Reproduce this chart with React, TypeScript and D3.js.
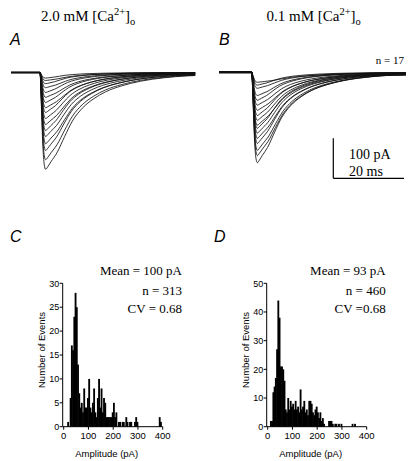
import React from "react";
import * as d3 from "d3";

// ---------- Trace data (read from panels A and B) ----------
// normalized time course of an event (ms after onset -> fraction of peak)
const shapeT = [0, 0.4, 0.8, 1.2, 1.6, 2.2, 3, 4.5, 6.5, 8.5, 11, 14, 17, 21, 26, 32, 38, 44];
const shapeV = [0, 0.35, 0.75, 0.95, 1.0, 0.97, 0.92, 0.83, 0.66, 0.5, 0.37, 0.27, 0.2, 0.14, 0.09, 0.055, 0.035, 0.025];

// peak amplitudes (pA) and decay stretch per trace
const ampsA = [14, 20, 28, 38, 50, 62, 75, 88, 100, 115, 130, 145, 160, 178, 195, 218, 242];
const decayA = [0.8, 1.0, 0.85, 0.95, 0.9, 1.0, 0.95, 1.05, 0.95, 1.0, 1.05, 1.0, 1.05, 1.1, 1.05, 1.1, 1.1];
const ampsB = [25, 32, 40, 58, 70, 82, 95, 108, 120, 132, 140, 152, 165, 178, 195, 208, 226];
const decayB = [1.4, 0.9, 1.0, 0.95, 0.9, 1.0, 1.05, 0.95, 1.0, 1.05, 0.95, 1.0, 1.05, 1.0, 1.05, 1.05, 1.0];
const windowA = [-8.2, 43.9];
const windowB = [-9.25, 43.6];

// ---------- Histogram data: counts in 5 pA bins starting at 0 ----------
const binWidth = 5;
const countsC = [
  0, 0, 0, 1, 0, 6, 17, 16, 23, 28, 25, 13, 7, 4, 5, 3, 8, 4, 4, 6,
  10, 4, 3, 5, 8, 3, 2, 6, 10, 4, 8, 3, 6, 5, 2, 2, 2, 2, 2, 3,
  5, 2, 3, 0, 1, 1, 0, 1, 1, 0, 2, 1, 0, 1, 1, 0, 0, 1, 2, 1,
  0, 0, 0, 0, 0, 0, 0, 0, 0, 0, 0, 0, 0, 0, 0, 0, 0, 2, 1,
];
const countsD = [
  0, 0, 2, 2, 12, 14, 17, 27, 44, 38, 21, 21, 20, 16, 6, 5, 10, 6, 9, 7,
  8, 6, 9, 6, 7, 5, 13, 6, 7, 9, 5, 6, 4, 9, 9, 8, 5, 4, 6, 7,
  5, 3, 5, 2, 3, 1, 0, 0, 0, 2, 2, 2, 1, 0, 1, 1, 0, 1, 0, 1,
  0, 0, 0, 0, 0, 0, 0, 0, 1, 0, 1,
];
const xTicksHist = [0, 100, 200, 300, 400];
const yTicksC = [0, 5, 10, 15, 20, 25, 30];
const yTicksD = [0, 10, 20, 30, 40, 50];
const statsC = ["Mean = 100 pA", "n = 313", "CV = 0.68"];
const statsD = ["Mean = 93 pA", "n = 460", "CV =0.68"];

const SERIF = "'Liberation Serif', 'Times New Roman', serif";
const SANS = "'Liberation Sans', Arial, sans-serif";
const MS_PX = 70.7 / 20;
const PA_PX = 40 / 100;

function traceValues(amp: number, stretch: number) {
  const peakT = shapeT[4];
  return shapeT.map((t, i) => ({
    t: t <= peakT ? t : peakT + (t - peakT) * stretch,
    v: amp * shapeV[i],
  }));
}

function TracePanel({ amps, decays, win, x0, baseY }: any) {
  const x = d3.scaleLinear().domain(win).range([x0, x0 + (win[1] - win[0]) * MS_PX]);
  const y = d3.scaleLinear().domain([0, 100]).range([baseY, baseY + 100 * PA_PX]);
  const line = d3
    .line<{ t: number; v: number }>()
    .x((d) => x(d.t))
    .y((d) => y(d.v))
    .curve(d3.curveMonotoneX);
  return (
    <g>
      {amps.map((a: number, i: number) => {
        const pts = [{ t: win[0], v: 0 }, ...traceValues(a, decays[i]).filter((p) => p.t <= win[1])];
        const last = pts[pts.length - 1];
        if (last.t < win[1]) pts.push({ t: win[1], v: last.v * 0.9 });
        return <path key={i} d={line(pts) || ""} fill="none" stroke="#111" strokeWidth={0.85} />;
      })}
      <line x1={x(win[0])} x2={x(0)} y1={y(0)} y2={y(0)} stroke="#111" strokeWidth={2.2} />
    </g>
  );
}

function Histogram({ counts, yTicks, yMax, x0, letterX, letter, stats, statsRight }: any) {
  const x = d3.scaleLinear().domain([0, 400]).range([x0, x0 + 99]);
  const y = d3.scaleLinear().domain([0, yMax]).range([426.7, 283.3]);
  const axisX = x(0) - 1;
  return (
    <g>
      <text x={letterX} y={242} fontFamily={SANS} fontStyle="italic" fontSize={16}>
        {letter}
      </text>
      {stats.map((s: string, i: number) => (
        <text key={i} x={statsRight} y={[275, 295, 312.7][i]} textAnchor="end" fontFamily={SERIF} fontSize={13}>
          {s}
        </text>
      ))}
      {counts.map((c: number, i: number) =>
        c > 0 ? (
          <rect
            key={i}
            x={x(i * binWidth) - 0.2}
            width={x((i + 1) * binWidth) - x(i * binWidth) + 0.6}
            y={y(c)}
            height={y(0) - y(c)}
            fill="#000"
          />
        ) : null
      )}
      <line x1={axisX} x2={axisX} y1={y(yMax)} y2={y(0)} stroke="#000" strokeWidth={1} />
      <line x1={axisX} x2={x(400)} y1={y(0)} y2={y(0)} stroke="#000" strokeWidth={1} />
      {yTicks.map((t: number) => (
        <g key={t}>
          <line x1={axisX - 3} x2={axisX} y1={y(t)} y2={y(t)} stroke="#000" strokeWidth={1} />
          <text x={axisX - 3.5} y={y(t) + 3.2} textAnchor="end" fontFamily={SANS} fontSize={9}>
            {t}
          </text>
        </g>
      ))}
      {xTicksHist.map((t: number) => (
        <g key={t}>
          <line x1={x(t)} x2={x(t)} y1={y(0)} y2={y(0) + 3} stroke="#000" strokeWidth={1} />
          <text x={x(t)} y={438.5} textAnchor="middle" fontFamily={SANS} fontSize={9.5}>
            {t}
          </text>
        </g>
      ))}
      <text x={x0 + 43} y={456.7} textAnchor="middle" fontFamily={SANS} fontSize={9.5}>
        Amplitude (pA)
      </text>
      <text
        transform={`translate(${x0 - 18.5},350) rotate(-90)`}
        textAnchor="middle"
        fontFamily={SANS}
        fontSize={9.5}
      >
        Number of Events
      </text>
    </g>
  );
}

function Title({ x, conc }: any) {
  return (
    <text x={x} y={20.7} fontFamily={SERIF} fontSize={15}>
      {conc} mM [Ca
      <tspan dy={-6} fontSize={10.5}>
        2+
      </tspan>
      <tspan dy={6}>]</tspan>
      <tspan dy={4} fontSize={10.5}>
        o
      </tspan>
    </text>
  );
}

export default function App() {
  const yBar = d3.scaleLinear().domain([0, 100]).range([178.3, 178.3 - 100 * PA_PX]);
  const xBar = d3.scaleLinear().domain([0, 20]).range([333.3, 333.3 + 20 * MS_PX]);
  return (
    <svg
      width={408}
      height={461}
      viewBox="0 0 408 461"
      style={{ position: "absolute", left: 0, top: 0, background: "#fff" }}
    >
      <rect width={408} height={461} fill="#fff" />
      <Title x={41} conc="2.0" />
      <Title x={266.5} conc="0.1" />
      <text x={10} y={45} fontFamily={SANS} fontStyle="italic" fontSize={16}>
        A
      </text>
      <text x={219} y={45} fontFamily={SANS} fontStyle="italic" fontSize={16}>
        B
      </text>
      <text x={404} y={64} textAnchor="end" fontFamily={SERIF} fontSize={11}>
        n = 17
      </text>
      <TracePanel amps={ampsA} decays={decayA} win={windowA} x0={11} baseY={72.5} />
      <TracePanel amps={ampsB} decays={decayB} win={windowB} x0={219} baseY={72.3} />
      {/* scale bar */}
      <line x1={xBar(0)} x2={xBar(0)} y1={yBar(100)} y2={yBar(0)} stroke="#000" strokeWidth={1.2} />
      <line x1={xBar(0)} x2={xBar(20)} y1={yBar(0)} y2={yBar(0)} stroke="#000" strokeWidth={1.2} />
      <text x={349} y={159} fontFamily={SERIF} fontSize={14}>
        100 pA
      </text>
      <text x={349} y={175.5} fontFamily={SERIF} fontSize={14}>
        20 ms
      </text>
      <Histogram
        counts={countsC}
        yTicks={yTicksC}
        yMax={30}
        x0={63.7}
        letterX={10}
        letter="C"
        stats={statsC}
        statsRight={182}
      />
      <Histogram
        counts={countsD}
        yTicks={yTicksD}
        yMax={50}
        x0={267.7}
        letterX={214}
        letter="D"
        stats={statsD}
        statsRight={385.7}
      />
    </svg>
  );
}
